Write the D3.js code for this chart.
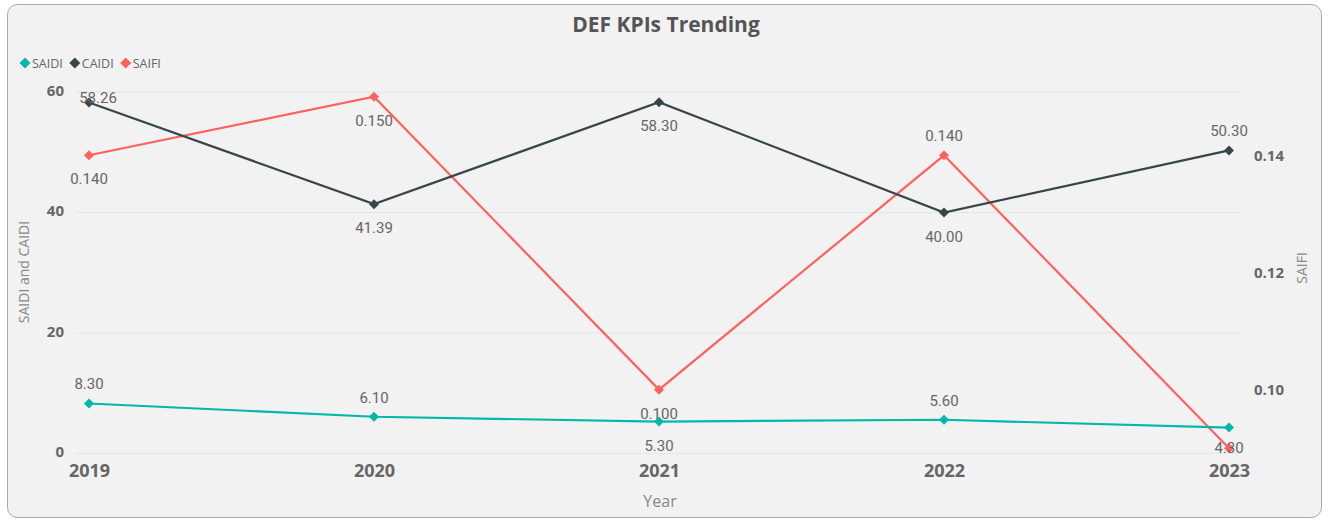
<!DOCTYPE html>
<html>
<head>
<meta charset="utf-8">
<script src="https://cdn.jsdelivr.net/npm/d3@7"></script>
<style>
  body { margin: 0; background: #fff; }
  svg { display: block; font-family: "Open Sans", "DejaVu Sans", sans-serif; }
</style>
</head>
<body>
<svg id="chart" width="1330" height="520"></svg>
<script>
var years = ["2019", "2020", "2021", "2022", "2023"];
var saidi = [8.30, 6.10, 5.30, 5.60, 4.30];
var caidi = [58.26, 41.39, 58.30, 40.00, 50.30];
var saifi = [0.140, 0.150, 0.100, 0.140, 0.090];
var leftTicks = [0, 20, 40, 60];
var rightTicks = [0.10, 0.12, 0.14];

var svg = d3.select('#chart');

// panel
svg.append('rect').attr('x', 7.5).attr('y', 4.5).attr('width', 1314).attr('height', 513)
  .attr('rx', 10).attr('fill', '#f2f2f2').attr('stroke', '#a8a8a8');

svg.append('text').attr('x', 666).attr('y', 32).attr('text-anchor', 'middle')
  .style('font-size', '21px').style('font-weight', 700).attr('fill', '#555')
  .text('DEF KPIs Trending');

var x = d3.scalePoint().domain(years).range([89, 1229]);
var yL = d3.scaleLinear().domain([0, 60]).range([453.5, 92]);
var yR = d3.scaleLinear().domain([0.0891, 0.1508]).range([453.5, 92]);

// square diamond marker
function diamond(r) {
  return 'M0,' + (-r) + 'L' + r + ',0L0,' + r + 'L' + (-r) + ',0Z';
}

// gridlines
svg.append('g').selectAll('line').data(leftTicks).enter().append('line')
  .attr('x1', 76).attr('x2', 1240)
  .attr('y1', function(d){ return yL(d); }).attr('y2', function(d){ return yL(d); })
  .attr('stroke', '#e4e4e4').attr('stroke-width', 1);

// left axis
var axL = svg.append('g').attr('transform', 'translate(64,0)')
  .call(d3.axisLeft(yL).tickValues(leftTicks).tickSize(0).tickPadding(0));
axL.select('.domain').remove();
axL.selectAll('text').style('font-size', '15px').style('font-weight', 700).attr('fill', '#666')
  .attr('font-family', 'Open Sans').attr('dy', '0.2em');

// right axis
var axR = svg.append('g').attr('transform', 'translate(1254,0)')
  .call(d3.axisRight(yR).tickValues(rightTicks).tickSize(0).tickPadding(0).tickFormat(d3.format('.2f')));
axR.select('.domain').remove();
axR.selectAll('text').style('font-size', '15px').style('font-weight', 700).attr('fill', '#666')
  .attr('font-family', 'Open Sans');

// x axis
var axX = svg.append('g').attr('transform', 'translate(0,464)')
  .call(d3.axisBottom(x).tickSize(0).tickPadding(0));
axX.select('.domain').remove();
axX.selectAll('text').style('font-size', '18px').style('font-weight', 700).attr('fill', '#666')
  .attr('font-family', 'Open Sans');

// axis titles
svg.append('text').attr('transform', 'translate(29,272) rotate(-90)').attr('text-anchor', 'middle')
  .style('font-size', '14px').attr('fill', '#888').text('SAIDI and CAIDI');
svg.append('text').attr('transform', 'translate(1307,268) rotate(-90)').attr('text-anchor', 'middle')
  .style('font-size', '14px').attr('fill', '#888').text('SAIFI');
svg.append('text').attr('x', 660).attr('y', 507).attr('text-anchor', 'middle')
  .style('font-size', '16px').attr('fill', '#888').text('Year');

// series
var series = [
  { name: 'SAIDI', values: saidi, y: yL, color: '#01B8AA', fmt: d3.format('.2f'),
    place: [-1, -1, 1, -1, 1] },
  { name: 'CAIDI', values: caidi, y: yL, color: '#374649', fmt: d3.format('.2f'),
    place: [0, 1, 1, 1, -1] },
  { name: 'SAIFI', values: saifi, y: yR, color: '#FD625E', fmt: d3.format('.3f'),
    place: [1, 1, 1, -1, null] }
];

series.slice().reverse().forEach(function(s){
  var line = d3.line()
    .x(function(d, i){ return x(years[i]); })
    .y(function(d){ return s.y(d); });
  var g = svg.append('g');
  g.append('path').datum(s.values).attr('d', line)
    .attr('fill', 'none').attr('stroke', s.color).attr('stroke-width', 2.2);
  g.selectAll('path.pt').data(s.values).enter().append('path').attr('class', 'pt')
    .attr('d', diamond(5))
    .attr('transform', function(d, i){ return 'translate(' + x(years[i]) + ',' + s.y(d) + ')'; })
    .attr('fill', s.color);
});

series.forEach(function(s){
  svg.append('g').selectAll('text').data(s.values).enter()
    .filter(function(d, i){ return s.place[i] !== null; })
    .append('text')
    .attr('x', function(d, i){ return x(years[i]) + (i === 0 && s.place[i] === 0 ? 9 : 0); })
    .attr('y', function(d, i){
      var p = s.place[i];
      var py = s.y(d);
      if (p === 0) return py + 1;
      // keep labels inside the plot area
      return p < 0 ? py - 14 : Math.min(py + 29, 453);
    })
    .attr('text-anchor', 'middle')
    .style('font-size', '15px').attr('fill', '#666')
    .attr('font-family', 'Roboto')
    .text(function(d){ return s.fmt(d); });
});

// legend
var legend = svg.append('g').attr('transform', 'translate(25,63)');
var lx = 0;
series.forEach(function(s){
  var item = legend.append('g').attr('transform', 'translate(' + lx + ',0)');
  item.append('path').attr('d', diamond(5.5)).attr('fill', s.color);
  var t = item.append('text').attr('x', 7).attr('y', 4.5).style('font-size', '12.5px')
    .attr('fill', '#666').text(s.name);
  lx += 7 + t.node().getComputedTextLength() + 12;
});
</script>
</body>
</html>
